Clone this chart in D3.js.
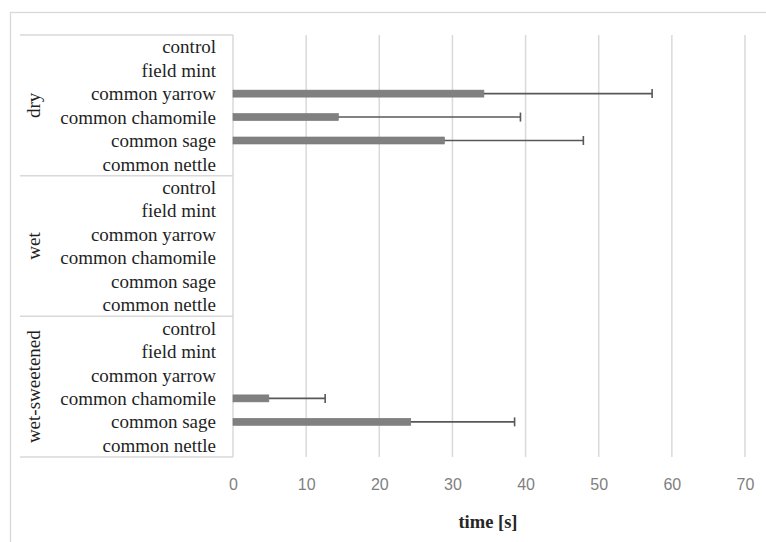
<!DOCTYPE html>
<html>
<head>
<meta charset="utf-8">
<script src="https://cdn.jsdelivr.net/npm/d3@7"></script>
<style>
  html, body { margin: 0; padding: 0; background: #fff; }
  svg { display: block; }
</style>
</head>
<body>
<svg id="chart" width="766" height="542"></svg>
<script>
// ---- data ----
const groups = ["dry", "wet", "wet-sweetened"];
const categories = ["control", "field mint", "common yarrow", "common chamomile", "common sage", "common nettle"];
// mean time [s] per group, in category order
const dryMeans = [0, 0, 34.3, 14.4, 28.9, 0];
const dryErrors = [0, 0, 23.0, 24.9, 19.0, 0];
const wetMeans = [0, 0, 0, 0, 0, 0];
const wetErrors = [0, 0, 0, 0, 0, 0];
const sweetMeans = [0, 0, 0, 4.9, 24.3, 0];
const sweetErrors = [0, 0, 0, 7.7, 14.2, 0];
const xTicks = [0, 10, 20, 30, 40, 50, 60, 70];
const xTitle = "time [s]";

const seriesByGroup = {
  "dry": { means: dryMeans, errors: dryErrors },
  "wet": { means: wetMeans, errors: wetErrors },
  "wet-sweetened": { means: sweetMeans, errors: sweetErrors }
};

const rows = [];
groups.forEach(g => categories.forEach((c, i) => {
  rows.push({ key: g + "|" + c, group: g, cat: c,
              mean: seriesByGroup[g].means[i], err: seriesByGroup[g].errors[i] });
}));

// ---- layout ----
const svg = d3.select("#chart");
const plot = { left: 233, right: 745, top: 35, bottom: 457 };
const labelBoxLeft = 20;

const x = d3.scaleLinear().domain([0, 70]).range([plot.left, plot.right]);
const y = d3.scaleBand().domain(rows.map(r => r.key)).range([plot.top, plot.bottom]).paddingInner(0).paddingOuter(0);

const serif = "'Liberation Serif', 'Times New Roman', serif";
const sans = "'Liberation Sans', Arial, sans-serif";

// outer chart border
svg.append("rect")
  .attr("x", 10.5).attr("y", 12.5).attr("width", 780).attr("height", 560)
  .attr("fill", "none").attr("stroke", "#d9d9d9").attr("stroke-width", 1.3);

// gridlines
svg.append("g").selectAll("line").data(xTicks.slice(1)).join("line")
  .attr("x1", d => x(d)).attr("x2", d => x(d))
  .attr("y1", plot.top).attr("y2", plot.bottom)
  .attr("stroke", "#d9d9d9").attr("stroke-width", 1.5);

// category box: zero axis line and group separators
svg.append("line")
  .attr("x1", x(0)).attr("x2", x(0)).attr("y1", plot.top).attr("y2", plot.bottom)
  .attr("stroke", "#d9d9d9").attr("stroke-width", 1.5);

const groupBounds = groups.map(g => {
  const keys = rows.filter(r => r.group === g).map(r => r.key);
  return { g, y0: y(keys[0]), y1: y(keys[keys.length - 1]) + y.bandwidth() };
});
const sepYs = [plot.top].concat(groupBounds.map(b => b.y1));
svg.append("g").selectAll("line").data(sepYs).join("line")
  .attr("x1", labelBoxLeft).attr("x2", x(0))
  .attr("y1", d => d).attr("y2", d => d)
  .attr("stroke", "#d9d9d9").attr("stroke-width", 1.5);

// bars
const barH = 7;
svg.append("g").selectAll("rect").data(rows.filter(r => r.mean > 0)).join("rect")
  .attr("x", x(0))
  .attr("y", d => y(d.key) + y.bandwidth() / 2 - barH / 2)
  .attr("width", d => x(d.mean) - x(0))
  .attr("height", barH)
  .attr("fill", "#808080")
  .attr("stroke", "#767676").attr("stroke-width", 0.6);

// error bars (positive direction)
const eg = svg.append("g");
rows.filter(r => r.err > 0).forEach(d => {
  const cy = y(d.key) + y.bandwidth() / 2;
  eg.append("line")
    .attr("x1", x(d.mean)).attr("x2", x(d.mean + d.err))
    .attr("y1", cy).attr("y2", cy)
    .attr("stroke", "#585858").attr("stroke-width", 1.6);
  eg.append("line")
    .attr("x1", x(d.mean + d.err)).attr("x2", x(d.mean + d.err))
    .attr("y1", cy - 4.5).attr("y2", cy + 4.5)
    .attr("stroke", "#585858").attr("stroke-width", 1.6);
});

// category labels
svg.append("g").selectAll("text").data(rows).join("text")
  .attr("x", 216)
  .attr("y", d => y(d.key) + y.bandwidth() / 2)
  .attr("dy", "0.35em")
  .attr("text-anchor", "end")
  .attr("font-family", serif).attr("font-size", 19)
  .attr("fill", "#1f1f1f")
  .text(d => d.cat);

// group labels (rotated)
svg.append("g").selectAll("text").data(groupBounds).join("text")
  .attr("transform", d => `translate(33,${(d.y0 + d.y1) / 2}) rotate(-90)`)
  .attr("dy", "0.35em")
  .attr("text-anchor", "middle")
  .attr("font-family", serif).attr("font-size", 19)
  .attr("fill", "#1f1f1f")
  .text(d => d.g);

// x axis tick labels
const xAxis = d3.axisBottom(x).tickValues(xTicks).tickSize(0).tickPadding(0);
const ax = svg.append("g").attr("transform", `translate(0,${plot.bottom})`).call(xAxis);
ax.select(".domain").remove();
ax.selectAll("text")
  .attr("y", 27).attr("dy", "0.35em")
  .attr("font-family", sans).attr("font-size", 16)
  .attr("fill", "#7f7f7f");

// axis title
svg.append("text")
  .attr("x", 488).attr("y", 522)
  .attr("dy", "0.35em")
  .attr("text-anchor", "middle")
  .attr("font-family", serif).attr("font-size", 18.5).attr("font-weight", "bold")
  .attr("fill", "#262626")
  .text(xTitle);
</script>
</body>
</html>
